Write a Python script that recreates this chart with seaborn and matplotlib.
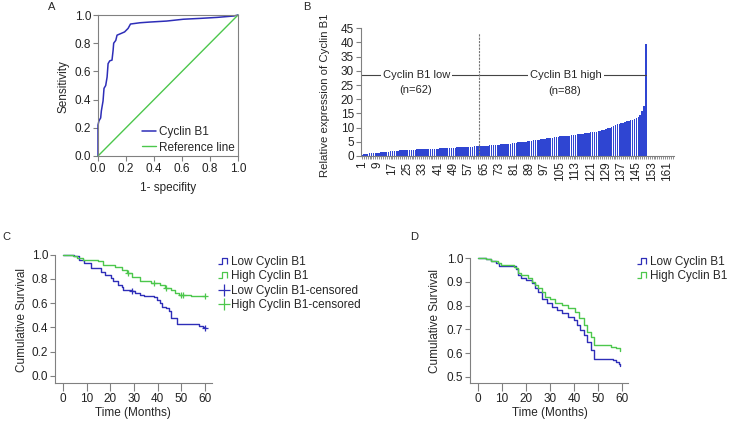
import numpy as np
import pandas as pd
import seaborn as sns
import matplotlib.pyplot as plt
from matplotlib.lines import Line2D
from matplotlib.path import Path

sns.set_theme(style="white")
plt.rcParams["font.family"] = ["Liberation Sans", "DejaVu Sans"]
plt.rcParams["font.size"] = 8.5

# ---- A: ROC curve ----
roc_fpr = [0.0, 0.0, 0.007, 0.019, 0.024, 0.036, 0.043, 0.055, 0.065, 0.072, 0.084, 0.10,
           0.108, 0.112, 0.127, 0.136, 0.167, 0.19, 0.215, 0.232, 0.30, 0.37, 0.49, 0.61,
           0.73, 0.85, 0.97, 1.0]
roc_tpr = [0.0, 0.22, 0.25, 0.27, 0.32, 0.39, 0.48, 0.50, 0.56, 0.655, 0.675, 0.68,
           0.75, 0.80, 0.82, 0.857, 0.87, 0.88, 0.905, 0.936, 0.945, 0.95, 0.957, 0.97,
           0.976, 0.983, 0.993, 1.0]
ref_line = [0.0, 1.0]

# ---- B: sorted expression of Cyclin B1 per case ----
expression = [0.4, 0.6, 0.7, 0.8, 0.9, 1.0, 1.0, 1.1, 1.2, 1.2,
              1.3, 1.3, 1.4, 1.5, 1.5, 1.6, 1.7, 1.8, 1.9, 1.9,
              2.0, 2.0, 2.0, 2.1, 2.1, 2.1, 2.2, 2.2, 2.2, 2.3,
              2.3, 2.3, 2.4, 2.4, 2.4, 2.5, 2.5, 2.5, 2.6, 2.6,
              2.6, 2.7, 2.7, 2.7, 2.8, 2.8, 2.8, 2.9, 2.9, 2.9,
              3.0, 3.0, 3.0, 3.1, 3.1, 3.2, 3.2, 3.3, 3.3, 3.4,
              3.4, 3.5, 3.5, 3.6, 3.6, 3.7, 3.7, 3.8, 3.8, 3.9,
              3.9, 4.0, 4.0, 4.1, 4.1, 4.2, 4.2, 4.3, 4.4, 4.5,
              4.6, 4.7, 4.8, 4.9, 5.0, 5.0, 5.1, 5.2, 5.3, 5.4,
              5.5, 5.6, 5.7, 5.8, 5.9, 6.0, 6.1, 6.2, 6.3, 6.4,
              6.5, 6.6, 6.7, 6.8, 6.9, 7.0, 7.0, 7.1, 7.1, 7.2,
              7.3, 7.4, 7.5, 7.6, 7.7, 7.8, 7.9, 8.0, 8.1, 8.2,
              8.3, 8.4, 8.5, 8.6, 8.7, 8.8, 9.0, 9.2, 9.5, 9.8,
              10.0, 10.3, 10.7, 11.0, 11.2, 11.4, 11.6, 11.8, 12.0, 12.2,
              12.4, 12.6, 12.8, 13.0, 13.3, 13.8, 14.5, 16.0, 17.5, 39.4]
n_slots = 164
n_low, n_high = 62, 88

# ---- C: Kaplan-Meier, cohort 1 ----
low_c_time = [0, 4.7, 6.9, 9.0, 11.9, 16.1, 17.6, 20.4, 21.1, 23.3, 24.7, 25.4, 29.0, 30.4,
              32.6, 34.0, 38.3, 39.7, 41.1, 41.9, 43.3, 44.7, 45.7, 48.3, 57.6, 59.0, 60.0]
low_c_surv = [1.0, 0.986, 0.959, 0.931, 0.890, 0.857, 0.834, 0.807, 0.779, 0.752, 0.730, 0.710,
              0.697, 0.683, 0.669, 0.655, 0.647, 0.628, 0.600, 0.572, 0.559, 0.531, 0.476,
              0.429, 0.415, 0.400, 0.393]
high_c_time = [0, 4.0, 6.0, 8.3, 14.7, 17.0, 22.0, 25.0, 27.0, 29.0, 32.5, 37.0, 41.0, 43.0,
               45.5, 47.5, 49.0, 54.0, 60.0]
high_c_surv = [1.0, 0.986, 0.972, 0.959, 0.945, 0.917, 0.895, 0.876, 0.848, 0.812, 0.785,
               0.766, 0.746, 0.724, 0.705, 0.683, 0.669, 0.655, 0.655]
low_c_cens_t = [29.0, 60.0]
low_c_cens_s = [0.697, 0.393]
high_c_cens_t = [27.5, 38.3, 43.3, 49.7, 50.5, 60.0]
high_c_cens_s = [0.848, 0.766, 0.724, 0.669, 0.669, 0.655]

# ---- D: Kaplan-Meier, cohort 2 ----
low_d_time = [0, 3.2, 5.4, 7.5, 8.9, 15.9, 16.6, 18.0, 20.1, 22.3, 23.7, 25.1, 26.5, 28.6, 30.7,
              32.8, 35.0, 37.7, 39.9, 41.3, 42.7, 44.2, 45.5, 46.9, 48.3, 56.1, 57.5, 58.9, 59.3]
low_d_surv = [1.0, 0.995, 0.990, 0.979, 0.969, 0.953, 0.930, 0.915, 0.908, 0.894, 0.873, 0.859,
              0.830, 0.810, 0.796, 0.782, 0.768, 0.754, 0.739, 0.718, 0.697, 0.676, 0.648,
              0.613, 0.573, 0.570, 0.563, 0.552, 0.545]
high_d_time = [0, 3.2, 5.4, 8.2, 9.6, 15.2, 15.9, 16.6, 18.0, 20.8, 22.3, 23.7, 25.1, 26.5, 27.9,
               30.0, 32.1, 35.0, 37.7, 40.6, 42.0, 44.2, 45.5, 46.9, 48.3, 55.4, 57.6, 59.0, 59.3]
high_d_surv = [1.0, 0.995, 0.990, 0.979, 0.972, 0.965, 0.958, 0.937, 0.930, 0.915, 0.901, 0.887,
               0.873, 0.859, 0.838, 0.827, 0.813, 0.803, 0.789, 0.775, 0.746, 0.718, 0.690,
               0.666, 0.634, 0.627, 0.620, 0.613, 0.608]

blue = "#2e2eb8"
green = "#4cc74c"
bar_blue = "#2f45d2"
grey = "#808080"

W, H = 733, 424
fig = plt.figure(figsize=(W / 100, H / 100), dpi=100)


def px_axes(left, top, width, height):
    # axes placed in pixel units of the 733x424 canvas
    return fig.add_axes([left / W, 1 - (top + height) / H, width / W, height / H])


def style_axes(ax, full_box=False):
    for side in ["top", "right"]:
        ax.spines[side].set_visible(full_box)
    for sp in ax.spines.values():
        sp.set_color(grey)
        sp.set_linewidth(0.8)
    ax.tick_params(axis="both", direction="out", color=grey, width=0.8, length=3.5,
                   labelsize=8.5, labelcolor="#222222", pad=1.5, left=True, bottom=True)


step_mark = Path([(-1.0, -0.6), (-0.3, -0.6), (-0.3, 0.6), (0.6, 0.6), (0.6, -0.6)])

# ================= A =================
axa = px_axes(98, 15, 140, 141)
sns.lineplot(x=roc_fpr, y=roc_tpr, sort=False, estimator=None, color=blue, lw=1.1,
             label="Cyclin B1", ax=axa)
sns.lineplot(x=ref_line, y=ref_line, sort=False, estimator=None, color=green, lw=1.0,
             label="Reference line", ax=axa)
for ln in axa.lines:
    ln.set_clip_on(False)
axa.set_xlim(0, 1)
axa.set_ylim(0, 1)
ticks = [0, 0.2, 0.4, 0.6, 0.8, 1.0]
axa.set_xticks(ticks, [f"{t:.1f}" for t in ticks])
axa.set_yticks(ticks, [f"{t:.1f}" for t in ticks])
style_axes(axa, full_box=True)
axa.set_xlabel("1- specifity", fontsize=8.5, va="center")
axa.xaxis.set_label_coords(0.5, -0.227)
axa.set_ylabel("Sensitivity", fontsize=8.5, va="center")
axa.yaxis.set_label_coords(-0.25, 0.49)
axa.legend(loc="upper left", bbox_to_anchor=(142 / W, 1 - 126 / H), bbox_transform=fig.transFigure,
           frameon=False, fontsize=8.5, handlelength=1.2, handletextpad=0.2, labelspacing=0.3,
           borderpad=0, borderaxespad=0)

# ================= B =================
axb = px_axes(361, 28.3, 312.6, 127.7)
heights = expression + [0.0] * (n_slots - len(expression))
df_b = pd.DataFrame({"case": np.arange(1, n_slots + 1), "expr": heights})
sns.barplot(data=df_b, x="case", y="expr", color=bar_blue, saturation=1, width=0.8,
            errorbar=None, linewidth=0, edgecolor="none", ax=axb)
axb.set_xlim(-0.5, n_slots - 0.5)
axb.set_ylim(0, 45)
axb.set_yticks(range(0, 46, 5))
axb.set_xticks(range(n_slots), [str(i + 1) if i % 8 == 0 else "" for i in range(n_slots)],
               rotation=90)
style_axes(axb)
axb.tick_params(axis="x", length=2.5, width=0.6, pad=1.5)
axb.set_xlabel("")
axb.set_ylabel("Relative expression of Cyclin B1", fontsize=8.2, va="center")
axb.yaxis.set_label_coords(-0.115, 0.478)
axb.plot([-0.5, n_low + n_high - 1], [28.5, 28.5], color="#444444", lw=0.8)
axb.vlines(n_low - 0.5, 0, 43.5, colors="#777777", linestyles=(0, (2, 1)), lw=0.8)
box = dict(fc="white", ec="none", pad=1.5)
axb.text(28.6, 28.5, "Cyclin B1 low", ha="center", va="center", fontsize=8, bbox=box)
axb.text(28.2, 23.3, f"(n={n_low})", ha="center", va="center", fontsize=8)
axb.text(106.8, 28.5, "Cyclin B1 high", ha="center", va="center", fontsize=8, bbox=box)
axb.text(106.5, 22.9, f"(n={n_high})", ha="center", va="center", fontsize=8)

# ================= C =================
axc = px_axes(55, 252.1, 161.9, 130.9)
sns.lineplot(x=low_c_time, y=low_c_surv, estimator=None, drawstyle="steps-post", color=blue,
             lw=1.0, ax=axc)
sns.lineplot(x=high_c_time, y=high_c_surv, estimator=None, drawstyle="steps-post", color=green,
             lw=1.0, ax=axc)
sns.scatterplot(x=low_c_cens_t, y=low_c_cens_s, marker="+", color=blue, s=22, linewidth=0.9, ax=axc)
sns.scatterplot(x=high_c_cens_t, y=high_c_cens_s, marker="+", color=green, s=22, linewidth=0.9,
                ax=axc)
axc.set_xlim(-3.4, 65)
axc.set_ylim(-0.058, 1.02)
axc.set_xticks(range(0, 61, 10))
axc.set_yticks(ticks, [f"{t:.1f}" for t in ticks])
style_axes(axc)
axc.spines["left"].set_bounds(-0.058, 1.0)
axc.spines["bottom"].set_bounds(-3.4, 62.8)
axc.tick_params(axis="x", length=5.5)
axc.set_xlabel("Time (Months)", fontsize=8.5, va="center")
axc.xaxis.set_label_coords(0.48, -0.229)
axc.set_ylabel("Cumulative Survival", fontsize=8.5, va="center")
axc.yaxis.set_label_coords(-0.204, 0.48)
handles_c = [
    Line2D([], [], color=blue, marker=step_mark, ls="none", ms=8, mfc="none", mew=0.9),
    Line2D([], [], color=green, marker=step_mark, ls="none", ms=8, mfc="none", mew=0.9),
    Line2D([], [], color=blue, marker="+", ls="none", ms=8, mew=0.9),
    Line2D([], [], color=green, marker="+", ls="none", ms=8, mew=0.9),
]
labels_c = ["Low Cyclin B1", "High Cyclin B1", "Low Cyclin B1-censored", "High Cyclin B1-censored"]
axc.legend(handles_c, labels_c, loc="upper left", bbox_to_anchor=(220 / W, 1 - 256 / H),
           bbox_transform=fig.transFigure, frameon=False, fontsize=8.5, handlelength=0.7,
           handletextpad=0.25, labelspacing=0.2, borderpad=0, borderaxespad=0)

# ================= D =================
axd = px_axes(470, 255.9, 164, 127.1)
sns.lineplot(x=low_d_time, y=low_d_surv, estimator=None, drawstyle="steps-post", color=blue,
             lw=1.0, ax=axd)
sns.lineplot(x=high_d_time, y=high_d_surv, estimator=None, drawstyle="steps-post", color=green,
             lw=1.0, ax=axd)
axd.set_xlim(-3.33, 65)
axd.set_ylim(0.4734, 1.01)
axd.set_xticks(range(0, 61, 10))
dticks = [0.5, 0.6, 0.7, 0.8, 0.9, 1.0]
axd.set_yticks(dticks, [f"{t:.1f}" for t in dticks])
style_axes(axd)
axd.spines["left"].set_bounds(0.4734, 1.0)
axd.spines["bottom"].set_bounds(-3.33, 62.5)
axd.tick_params(axis="x", length=5.5)
axd.set_xlabel("Time (Months)", fontsize=8.5, va="center")
axd.xaxis.set_label_coords(0.49, -0.235)
axd.set_ylabel("Cumulative Survival", fontsize=8.5, va="center")
axd.yaxis.set_label_coords(-0.213, 0.49)
axd.legend(handles_c[:2], labels_c[:2], loc="upper left", bbox_to_anchor=(639 / W, 1 - 256 / H),
           bbox_transform=fig.transFigure, frameon=False, fontsize=8.5, handlelength=0.7,
           handletextpad=0.25, labelspacing=0.2, borderpad=0, borderaxespad=0)

# panel letters
for letter, (x, y) in {"A": (52, 7), "B": (307, 7), "C": (6, 237), "D": (414, 237)}.items():
    fig.text(x / W, 1 - y / H, letter, ha="center", va="center", fontsize=8)

fig.savefig("out.png", dpi=100, facecolor="white")
